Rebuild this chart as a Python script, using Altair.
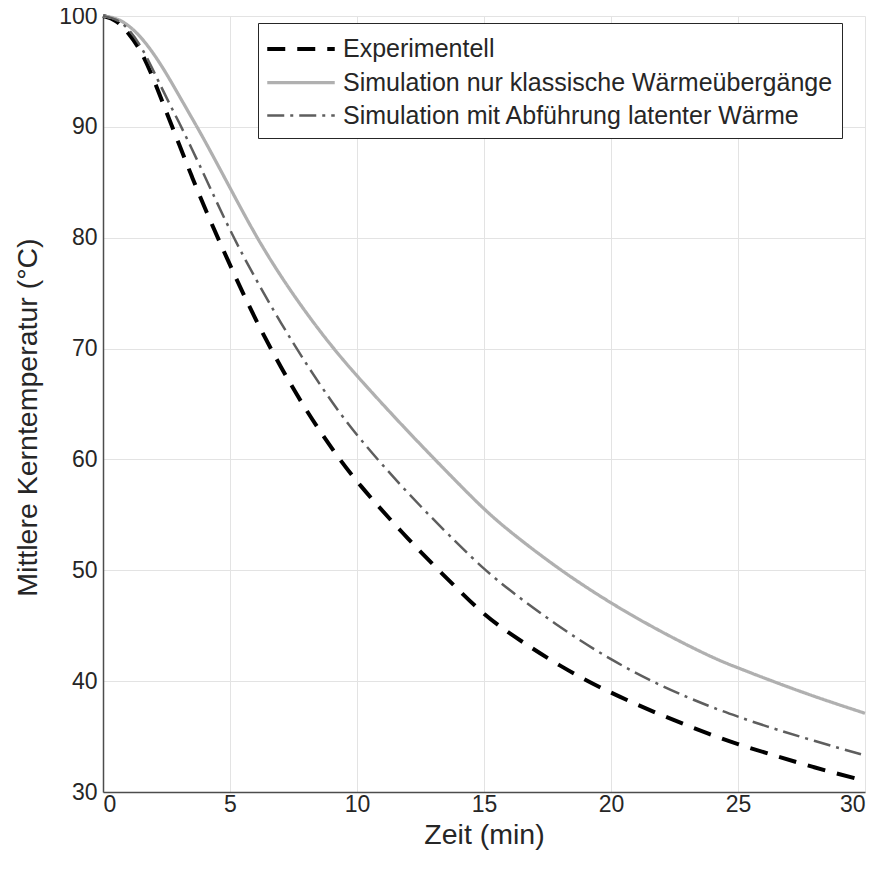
import altair as alt
import pandas as pd

# time (min)
t = [0, 0.5, 1, 1.5, 2, 2.5, 3, 3.5, 4, 5, 6, 7, 8, 9, 10, 12, 14, 15, 16, 18, 20, 22, 24, 25, 26, 28, 30]

experimentell = [100, 99.7, 98.5, 96.9, 94.3, 91.3, 88.4, 85.5, 82.7, 77.5, 72.6, 68.3, 64.4, 61.0, 57.9,
                 52.8, 48.2, 46.0, 44.3, 41.3, 38.9, 36.9, 35.1, 34.3, 33.6, 32.2, 31.0]
klassisch = [100, 99.85, 99.2, 98.1, 96.6, 94.8, 92.8, 90.8, 88.8, 84.5, 80.2, 76.5, 73.2, 70.2, 67.5,
             62.5, 57.8, 55.5, 53.5, 50.0, 47.0, 44.4, 42.1, 41.2, 40.3, 38.6, 37.1]
latent = [100, 99.8, 98.9, 97.3, 95.0, 92.6, 90.4, 88.0, 85.6, 80.6, 76.3, 72.3, 68.6, 65.2, 62.1,
          56.9, 52.3, 50.1, 48.2, 44.8, 41.9, 39.5, 37.6, 36.8, 36.0, 34.6, 33.3]

names = ["Experimentell",
         "Simulation nur klassische Wärmeübergänge",
         "Simulation mit Abführung latenter Wärme"]
colors = ["#000000", "#b0b0b0", "#5e5e5e"]
dashes = [[18, 12], [1, 0], [17, 6, 3, 6]]
widths = [4, 2.5, 3]

x_ticks = [0, 5, 10, 15, 20, 25, 30]
y_ticks = [30, 40, 50, 60, 70, 80, 90, 100]

rows = []
for name, vals in zip(names, [experimentell, klassisch, latent]):
    for ti, v in zip(t, vals):
        rows.append({"t": ti, "T": v, "series": name})
df = pd.DataFrame(rows)

FONT = "Liberation Sans"
TXT = "#262626"

leg = alt.Legend(
    title=None, orient="none", legendX=155, legendY=7, direction="vertical",
    fillColor="white", strokeColor="#262626", padding=9,
    symbolType="M-2.25,0H2.25", symbolSize=900, symbolOffset=17, labelOffset=25,
    labelFontSize=25, labelFont=FONT, labelColor=TXT, labelLimit=0, rowPadding=3.5,
)

chart = alt.Chart(df).mark_line(interpolate="basis", strokeCap="butt").encode(
    x=alt.X("t:Q", scale=alt.Scale(domain=[0, 30], nice=False),
            axis=alt.Axis(values=x_ticks, title="Zeit (min)", titleY=42, titleBaseline="middle",
                          labelPadding=1)),
    y=alt.Y("T:Q", scale=alt.Scale(domain=[30, 100], nice=False, zero=False),
            axis=alt.Axis(values=y_ticks, title="Mittlere Kerntemperatur (°C)",
                          titleX=-76, titleY=401, titleBaseline="middle", labelPadding=6)),
    color=alt.Color("series:N", scale=alt.Scale(domain=names, range=colors), legend=leg),
    strokeDash=alt.StrokeDash("series:N", scale=alt.Scale(domain=names, range=dashes), legend=leg),
    strokeWidth=alt.StrokeWidth("series:N", scale=alt.Scale(domain=names, range=widths), legend=leg),
).properties(
    width=762, height=776,
    autosize=alt.AutoSizeParams(type="none"),
    padding={"left": 95, "top": 8, "right": 8, "bottom": 74},
).configure_view(stroke=None).configure_axis(
    labelFont=FONT, titleFont=FONT, labelFontSize=23, titleFontSize=28.5,
    labelColor=TXT, titleColor=TXT, titleFontWeight="normal",
    gridColor="#e3e3e3", gridWidth=1, domainColor="#4d4d4d", domainWidth=1.5,
    tickSize=0,
)

chart.save("out.html", embed_options={"renderer": "svg", "actions": False})
